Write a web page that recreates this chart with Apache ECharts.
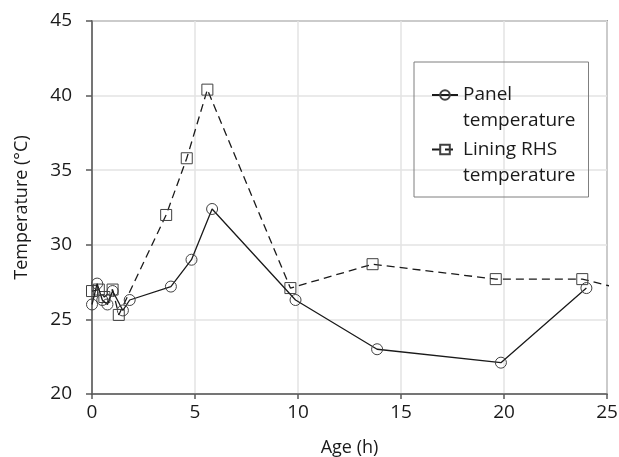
<!DOCTYPE html>
<html>
<head>
<meta charset="utf-8">
<script src="https://cdn.jsdelivr.net/npm/echarts@6/dist/echarts.min.js"></script>
<style>
  html, body { margin: 0; padding: 0; background: #fff; }
  #chart { width: 619px; height: 457px; }
</style>
</head>
<body>
<div id="chart"></div>
<script>
// age (h) and temperature (°C)
const panelAge = [0, 0.25, 0.5, 0.75, 1.0, 1.5, 1.83, 3.83, 4.83, 5.83, 9.88, 13.84, 19.85, 24.0];
const panelTemp = [26.0, 27.4, 26.3, 26.0, 26.9, 25.6, 26.3, 27.2, 29.0, 32.4, 26.3, 23.0, 22.1, 27.1];

const liningAge = [0, 0.33, 0.6, 1.0, 1.3, 3.6, 4.6, 5.6, 9.63, 13.62, 19.6, 23.8, 27.0];
const liningTemp = [26.9, 27.0, 26.5, 27.0, 25.3, 32.0, 35.8, 40.4, 27.1, 28.7, 27.7, 27.7, 26.6];

const seriesNames = ['Panel temperature', 'Lining RHS temperature'];
const legendLines = [['Panel', 'temperature'], ['Lining RHS', 'temperature']];

const xTicks = { min: 0, max: 25, interval: 5 };
const yTicks = { min: 20, max: 45, interval: 5 };

const toPairs = (xs, ys) => xs.map((x, i) => [x, ys[i]]);

const FONT = 'Open Sans';
const TEXT = '#1a1a1a';
const AXIS = '#595959';
const GRID = '#e3e3e3';

const chart = echarts.init(document.getElementById('chart'));

// the legend icon sits beside the first line of each two-line label:
// a thin spacer line on top balances the thin second line so the block centre is line one
const legendText = (name) => {
  const [first, second] = legendLines[seriesNames.indexOf(name)];
  return `{s| }\n{a|${first}}\n{b|${second}}`;
};

const option = {
  animation: false,
  textStyle: { fontFamily: FONT },
  grid: {
    left: 92, right: 12, top: 21, bottom: 63,
    outerBoundsMode: 'none',
    show: true, borderColor: AXIS, borderWidth: 1.5,
  },
  legend: {
    orient: 'vertical',
    left: 414,
    top: 62,
    padding: [5, 13, 12, 17],
    itemGap: -9,
    itemWidth: 26,
    itemHeight: 12,
    borderColor: '#7f7f7f',
    borderWidth: 1,
    borderRadius: 0,
    data: seriesNames,
    formatter: legendText,
    textStyle: {
      fontFamily: FONT, fontSize: 19, color: TEXT,
      rich: {
        s: { fontSize: 4, lineHeight: 4 },
        a: { fontFamily: FONT, fontSize: 19, color: TEXT, lineHeight: 48 },
        b: { fontFamily: FONT, fontSize: 19, color: TEXT, lineHeight: 4 },
      },
    },
  },
  xAxis: {
    type: 'value',
    min: xTicks.min, max: xTicks.max, interval: xTicks.interval,
    name: 'Age (h)',
    nameLocation: 'middle',
    nameGap: 45,
    nameTextStyle: { fontFamily: FONT, fontSize: 18, color: TEXT },
    axisLine: { show: true, lineStyle: { color: AXIS, width: 1.5 } },
    axisTick: { show: true, length: 5, lineStyle: { color: AXIS, width: 1.5 } },
    axisLabel: { margin: 9, fontSize: 19, color: TEXT, fontFamily: FONT },
    splitLine: { show: true, lineStyle: { color: GRID, width: 1.5 } },
  },
  yAxis: {
    type: 'value',
    min: yTicks.min, max: yTicks.max, interval: yTicks.interval,
    name: 'Temperature (°C)',
    nameLocation: 'middle',
    nameGap: 61,
    nameTextStyle: { fontFamily: FONT, fontSize: 18, color: TEXT },
    axisLine: { show: true, lineStyle: { color: AXIS, width: 1.5 } },
    axisTick: { show: true, length: 6, lineStyle: { color: AXIS, width: 1.5 } },
    axisLabel: { margin: 20, fontSize: 19, color: TEXT, fontFamily: FONT },
    splitLine: { show: true, lineStyle: { color: GRID, width: 1.5 } },
  },
  series: [
    {
      name: seriesNames[0],
      type: 'line',
      data: toPairs(panelAge, panelTemp),
      symbol: 'circle',
      symbolSize: 11,
      lineStyle: { color: '#1a1a1a', width: 1.3 },
      itemStyle: { color: 'rgba(255,255,255,0)', borderColor: '#404040', borderWidth: 1 },
      z: 3,
    },
    {
      name: seriesNames[1],
      type: 'line',
      data: toPairs(liningAge, liningTemp),
      symbol: 'rect',
      symbolSize: 11,
      lineStyle: { color: '#1a1a1a', width: 1.3, type: [8, 5] },
      itemStyle: { color: 'rgba(255,255,255,0)', borderColor: '#404040', borderWidth: 1 },
      z: 2,
    },
  ],
};

chart.setOption(option);
</script>
</body>
</html>
